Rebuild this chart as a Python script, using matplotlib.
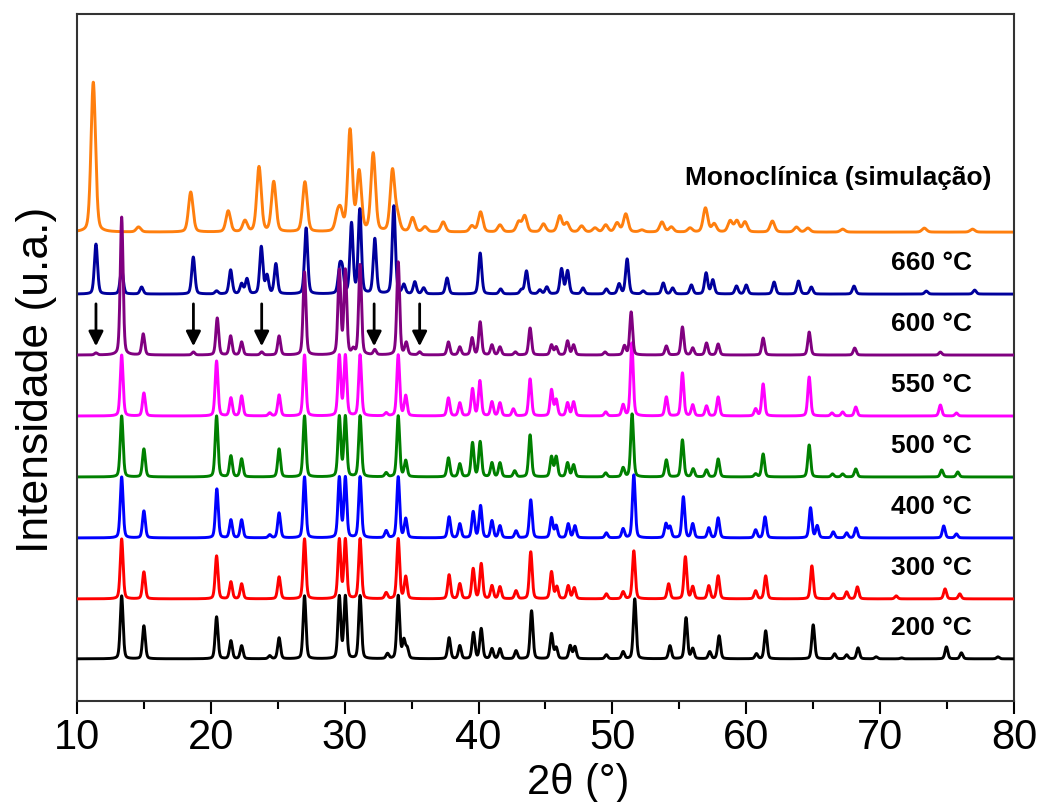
import numpy as np
import matplotlib.pyplot as plt
import matplotlib as mpl

mpl.rcParams['font.family'] = ['Liberation Sans', 'DejaVu Sans']

# peak lists: 2theta position (deg) and visible height
mono_pos = [11.22, 14.6, 18.5, 21.3, 22.55, 23.6, 24.7, 27.03, 29.45, 29.7, 30.4, 31.08, 32.13,
            33.57, 33.95, 35.07, 36.0, 37.36, 39.5, 40.15, 41.6, 43.0, 43.45, 44.85, 46.07, 46.6,
            47.7, 48.7, 49.5, 50.35, 51.0, 52.2, 53.7, 54.4, 55.8, 56.95, 57.6, 58.8, 59.3, 59.9,
            61.95, 63.75, 64.6, 67.2, 73.3, 76.9]
mono_h = [150, 5, 40, 21, 11, 65, 50, 50, 14, 18, 101, 59, 78,
          61, 14, 14, 5, 10, 6, 20, 7, 10, 16, 8, 16, 9,
          6, 4, 7, 9, 18, 2, 10, 5, 4, 24, 8, 11, 11, 10,
          11, 5, 4, 3, 4, 3]

t660_pos = [11.42, 13.34, 14.83, 18.69, 20.43, 21.48, 22.3, 22.7, 23.77, 24.2, 24.86, 27.12,
            29.62, 29.82, 30.51, 31.13, 32.25, 33.67, 34.42, 35.24, 35.9, 37.65, 40.12, 41.65,
            43.2, 43.58, 44.58, 45.1, 46.2, 46.65, 47.8, 49.55, 50.5, 51.1, 52.3, 53.8, 54.5,
            55.9, 57.0, 57.5, 59.27, 60.0, 62.08, 63.9, 64.86, 68.05, 73.45, 77.06]
t660_h = [50, 25, 7, 37, 3, 24, 10, 15, 47, 18, 30, 66,
          24, 22, 70, 84, 55, 88, 9, 12, 6, 16, 41, 5,
          4, 23, 4, 7, 25, 23, 6, 5, 10, 35, 3, 11, 6,
          9, 21, 14, 8, 9, 12, 13, 7, 8, 3, 4]

t600_pos = [11.42, 13.34, 14.95, 18.7, 20.48, 21.48, 22.3, 23.8, 25.1, 27.0, 29.6, 30.05,
            30.64, 31.15, 32.25, 34.0, 34.6, 35.6, 37.75, 38.6, 39.52, 40.12, 41.0, 41.6,
            42.75, 43.85, 45.45, 45.8, 46.65, 47.1, 49.45, 50.9, 51.4, 54.03, 55.23, 56.0,
            57.03, 57.9, 61.26, 64.7, 68.1, 74.5]
t600_h = [2, 138, 21, 3, 37, 19, 13, 3, 19, 83, 84, 84,
          5, 90, 5, 93, 12, 3, 13, 8, 17, 33, 10, 8,
          3, 27, 10, 8, 14, 10, 3, 9, 43, 9, 28, 7,
          12, 11, 17, 23, 7, 3]

t550_pos = [13.34, 15.0, 20.43, 21.5, 22.3, 24.4, 25.1, 27.0, 29.6, 30.05, 31.15, 33.1, 34.0,
            34.56, 37.75, 38.6, 39.55, 40.1, 41.0, 41.6, 42.6, 43.85, 45.45, 45.8, 46.65, 47.1,
            49.5, 50.8, 51.45, 54.03, 55.23, 56.0, 57.03, 57.9, 60.7, 61.26, 64.7, 66.4, 67.2,
            68.18, 74.5, 75.7]
t550_h = [61, 23, 55, 18, 20, 3, 21, 61, 60, 60, 61, 3, 61,
          20, 18, 13, 27, 35, 14, 13, 7, 37, 26, 16, 13, 14,
          4, 11, 73, 19, 43, 11, 10, 19, 7, 32, 39, 3, 4,
          9, 11, 3]

t500_pos = [13.34, 15.0, 20.43, 21.5, 22.3, 25.1, 27.0, 29.6, 30.05, 31.15, 33.1, 34.0, 34.56,
            37.75, 38.6, 39.55, 40.12, 41.0, 41.6, 42.7, 43.85, 45.45, 45.8, 46.65, 47.1, 49.5,
            50.8, 51.47, 54.03, 55.23, 56.03, 57.03, 57.9, 60.7, 61.26, 64.7, 66.44, 67.2, 68.18,
            74.6, 75.8]
t500_h = [61, 28, 61, 21, 18, 28, 61, 60, 60, 61, 4, 61, 16,
          19, 13, 34, 35, 14, 14, 6, 42, 20, 20, 14, 12, 4,
          9, 63, 17, 37, 8, 7, 18, 3, 23, 32, 3, 3, 8,
          7, 5]

t400_pos = [13.34, 15.0, 20.45, 21.5, 22.3, 24.4, 25.1, 27.0, 29.6, 30.05, 31.15, 33.1, 34.0,
            34.56, 37.8, 38.6, 39.6, 40.15, 41.0, 41.6, 42.8, 43.9, 45.45, 45.8, 46.7, 47.2,
            49.55, 50.8, 51.6, 54.0, 54.3, 55.3, 56.0, 57.2, 57.9, 60.7, 61.4, 64.8, 65.3,
            66.5, 67.5, 68.2, 74.75, 75.7]
t400_h = [61, 27, 49, 18, 18, 3, 25, 61, 60, 60, 61, 7, 61,
          19, 21, 14, 26, 32, 17, 12, 7, 38, 20, 12, 14, 12,
          5, 9, 63, 14, 11, 41, 14, 10, 20, 8, 21, 30, 12,
          6, 5, 10, 12, 4]

t300_pos = [13.34, 15.0, 20.43, 21.5, 22.3, 25.1, 27.0, 29.6, 30.05, 31.15, 33.1, 34.0, 34.56,
            37.8, 38.6, 39.6, 40.2, 41.0, 41.6, 42.8, 43.9, 45.45, 45.85, 46.7, 47.15, 49.55,
            50.8, 51.6, 54.2, 55.45, 56.0, 57.2, 57.9, 60.7, 61.45, 64.9, 66.5, 67.5, 68.3,
            71.2, 74.85, 75.95]
t300_h = [60, 27, 43, 17, 15, 22, 60, 59, 59, 60, 6, 60, 22,
          24, 15, 30, 35, 13, 12, 8, 47, 27, 12, 13, 11, 5,
          7, 48, 15, 42, 12, 13, 23, 8, 23, 33, 5, 7, 12,
          3, 10, 5]

t200_pos = [13.34, 15.0, 20.43, 21.5, 22.3, 24.4, 25.1, 27.0, 29.6, 30.05, 31.15, 33.2, 34.0,
            34.42, 34.67, 37.8, 38.6, 39.62, 40.2, 41.0, 41.6, 42.8, 43.96, 45.45, 45.8, 46.85,
            47.2, 49.55, 50.8, 51.67, 54.3, 55.5, 56.0, 57.27, 57.97, 60.76, 61.45, 65.0, 66.6,
            67.5, 68.35, 69.7, 71.6, 74.95, 76.07, 78.8]
t200_h = [63, 33, 42, 18, 13, 3, 21, 63, 62, 62, 63, 5, 63,
          18, 10, 21, 13, 26, 30, 10, 10, 8, 48, 25, 11, 13,
          12, 4, 7, 60, 13, 41, 10, 7, 23, 5, 28, 34, 5,
          4, 11, 2, 1, 12, 6, 2]

series = [(mono_pos, mono_h), (t660_pos, t660_h), (t600_pos, t600_h), (t550_pos, t550_h),
          (t500_pos, t500_h), (t400_pos, t400_h), (t300_pos, t300_h), (t200_pos, t200_h)]
offsets = [469, 407, 346, 285, 224, 163, 102, 42]
labels = ['Monoclínica (simulação)', '660 °C', '600 °C', '550 °C',
          '500 °C', '400 °C', '300 °C', '200 °C']
colors = ['#ff7f0e', '#00009c', '#800080', '#ff00ff', '#008000', '#0000ff', '#ff0000', '#000000']
fwhms = [0.4, 0.28, 0.25, 0.25, 0.25, 0.25, 0.25, 0.25]

arrow_pos = [11.42, 18.7, 23.8, 32.2, 35.6]

two_theta = np.arange(10, 80.001, 0.01)


def pattern(pos, h, fwhm):
    y = np.zeros_like(two_theta)
    for p, a in zip(pos, h):
        d = (two_theta - p) / (fwhm / 2)
        y += a * (0.7 * np.exp(-np.log(2) * d**2) + 0.3 / (1 + d**2))
    return y


fig = plt.figure(figsize=(10.4, 8.03), dpi=100)
ax = fig.add_axes([0.074, 0.126, 0.901, 0.855])

for i, (pos, h) in enumerate(series):
    z = 5 if labels[i] == '600 °C' else 2 + i * 0.1
    ax.plot(two_theta, offsets[i] + pattern(pos, h, fwhms[i]), color=colors[i], lw=2.1,
            zorder=z, solid_joinstyle='round')

# labels
ax.text(66.9, 524, labels[0], ha='center', va='center', fontsize=19, fontweight='bold')
for i in range(1, 8):
    ax.text(73.8, offsets[i] + 32, labels[i], ha='center', va='center', fontsize=19, fontweight='bold')

for xa in arrow_pos:
    ax.annotate('', xy=(xa, 352), xytext=(xa, 400),
                arrowprops=dict(arrowstyle='-|>', color='k', lw=2, mutation_scale=22), zorder=6)

ax.set_xlim(10, 80)
ax.set_ylim(0, 687)
ax.set_yticks([])
ax.set_xticks(np.arange(10, 81, 10))
ax.set_xticks(np.arange(15, 80, 10), minor=True)
ax.tick_params(axis='x', which='major', direction='out', length=9, width=1.5, pad=3)
ax.tick_params(axis='x', which='minor', direction='out', length=6, width=1.5)
for lbl in ax.get_xticklabels():
    lbl.set_fontsize(30)
for sp in ax.spines.values():
    sp.set_linewidth(1.5)
    sp.set_color('#333333')

ax.set_xlabel('2θ (°)', fontsize=30)
ax.xaxis.set_label_coords(0.535, -0.089)
ax.set_ylabel('Intensidade (u.a.)', fontsize=32)
ax.yaxis.set_label_coords(-0.021, 0.469)

fig.savefig('out.png', dpi=100)
